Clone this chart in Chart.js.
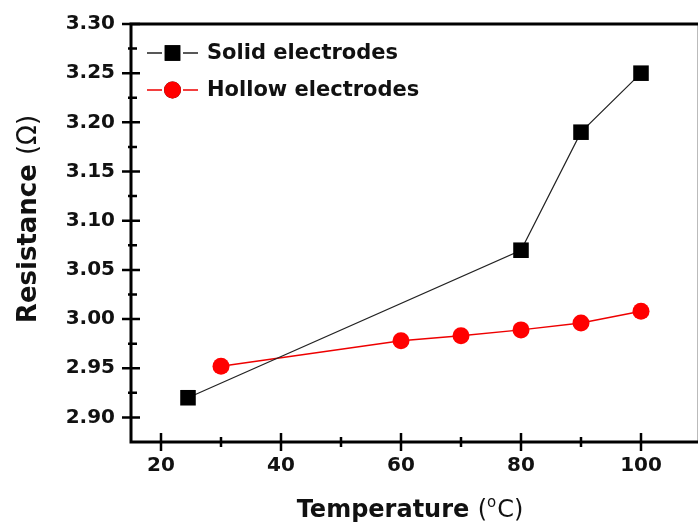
<!DOCTYPE html>
<html>
<head>
<meta charset="utf-8">
<script src="https://cdn.jsdelivr.net/npm/chart.js@4.4.1/dist/chart.umd.min.js"></script>
<style>
  body { margin: 0; background: #fff; }
  #wrap { width: 699px; height: 532px; position: relative; }
</style>
</head>
<body>
<div id="wrap"><canvas id="c"></canvas></div>
<script>
// values
const solidTemp = [24.5, 80, 90, 100];
const solidRes = [2.92, 3.07, 3.19, 3.25];
const hollowTemp = [30, 60, 70, 80, 90, 100];
const hollowRes = [2.952, 2.978, 2.983, 2.989, 2.996, 3.008];

const xMajor = [20, 40, 60, 80, 100];
const xMinor = [30, 50, 70, 90];
const yMajor = [2.90, 2.95, 3.00, 3.05, 3.10, 3.15, 3.20, 3.25, 3.30];
const yMinor = [2.925, 2.975, 3.025, 3.075, 3.125, 3.175, 3.225, 3.275];

const seriesNames = ['Solid electrodes', 'Hollow electrodes'];
const FONT = '"DejaVu Sans", sans-serif';

function pts(xs, ys){
  return xs.map((x, i) => ({x: x, y: ys[i]}));
}

// axes frame, cross ticks, titles and the legend box
const frame = {
  id: 'frame',
  afterDraw(chart){
    const {ctx, chartArea: a, scales: {x, y}} = chart;
    ctx.save();
    ctx.lineCap = 'butt';

    // light right edge
    ctx.strokeStyle = '#bbb';
    ctx.lineWidth = 1;
    ctx.beginPath(); ctx.moveTo(a.right - 0.5, a.top); ctx.lineTo(a.right - 0.5, a.bottom); ctx.stroke();

    ctx.strokeStyle = '#000';
    ctx.lineWidth = 3;
    ctx.beginPath();
    ctx.moveTo(a.right, a.top); ctx.lineTo(a.left, a.top);
    ctx.lineTo(a.left, a.bottom); ctx.lineTo(a.right, a.bottom);
    ctx.stroke();

    ctx.lineWidth = 2.5;
    ctx.beginPath();
    xMajor.forEach(v => { const p = x.getPixelForValue(v); ctx.moveTo(p, a.bottom - 9); ctx.lineTo(p, a.bottom + 9); });
    xMinor.forEach(v => { const p = x.getPixelForValue(v); ctx.moveTo(p, a.bottom - 5); ctx.lineTo(p, a.bottom + 5); });
    yMajor.forEach(v => { const p = y.getPixelForValue(v); ctx.moveTo(a.left - 9, p); ctx.lineTo(a.left + 9, p); });
    yMinor.forEach(v => { const p = y.getPixelForValue(v); ctx.moveTo(a.left - 3, p); ctx.lineTo(a.left + 6, p); });
    ctx.stroke();

    // x title: "Temperature (°C)"
    ctx.fillStyle = '#111';
    ctx.textBaseline = 'alphabetic';
    ctx.textAlign = 'left';
    const bold = 'bold 24px ' + FONT, thin = '24px ' + FONT, sup = '15px ' + FONT;
    ctx.font = bold; const w1 = ctx.measureText('Temperature ').width;
    ctx.font = thin; const w2 = ctx.measureText('(').width;
    ctx.font = sup; const w3 = ctx.measureText('o').width + 1;
    ctx.font = thin; const w4 = ctx.measureText('C)').width;
    let tx = 410 - (w1 + w2 + w3 + w4) / 2;
    const ty = 517;
    ctx.font = bold; ctx.fillText('Temperature ', tx, ty); tx += w1;
    ctx.font = thin; ctx.fillText('(', tx, ty); tx += w2;
    ctx.font = sup; ctx.fillText('o', tx, ty - 10); tx += w3;
    ctx.font = thin; ctx.fillText('C)', tx, ty);

    // y title: "Resistance (Ω)"
    ctx.save();
    ctx.translate(36, 219);
    ctx.rotate(-Math.PI / 2);
    ctx.font = 'bold 26px ' + FONT; const r1 = ctx.measureText('Resistance ').width;
    ctx.font = '26px ' + FONT; const r2 = ctx.measureText('(Ω)').width;
    let rx = -(r1 + r2) / 2;
    ctx.font = 'bold 26px ' + FONT; ctx.fillText('Resistance ', rx, 0); rx += r1;
    ctx.font = '26px ' + FONT; ctx.fillText('(Ω)', rx, 0);
    ctx.restore();

    // legend
    const rows = [53, 90];
    chart.data.datasets.forEach((ds, i) => {
      const cy = rows[i];
      ctx.strokeStyle = ds.borderColor;
      ctx.lineWidth = 1.5;
      ctx.beginPath();
      ctx.moveTo(147, cy); ctx.lineTo(162, cy);
      ctx.moveTo(183, cy); ctx.lineTo(198, cy);
      ctx.stroke();
      Chart.helpers.drawPoint(ctx, {pointStyle: ds.pointStyle, radius: ds.pointRadius, borderWidth: 0}, 172.5, cy);
      ctx.fillStyle = ds.pointBackgroundColor;
      ctx.fill();
      ctx.fillStyle = '#111';
      ctx.font = 'bold 21px ' + FONT;
      ctx.textBaseline = 'middle';
      ctx.fillText(ds.label, 207, cy + 1);
    });
    ctx.restore();
  }
};

new Chart(document.getElementById('c').getContext('2d'), {
  type: 'scatter',
  data: {
    datasets: [
      {
        label: seriesNames[0],
        data: pts(solidTemp, solidRes),
        showLine: true,
        borderColor: '#222',
        borderWidth: 1.2,
        pointStyle: 'rect',
        pointRadius: 11,
        pointBackgroundColor: '#000',
        pointBorderWidth: 0
      },
      {
        label: seriesNames[1],
        data: pts(hollowTemp, hollowRes),
        showLine: true,
        borderColor: '#e00',
        borderWidth: 1.5,
        pointStyle: 'circle',
        pointRadius: 8.5,
        pointBackgroundColor: '#f00',
        pointBorderWidth: 0
      }
    ]
  },
  options: {
    responsive: true,
    maintainAspectRatio: false,
    animation: false,
    layout: {autoPadding: false, padding: {top: 24, right: 1, left: 0, bottom: 0}},
    plugins: {legend: {display: false}, tooltip: {enabled: false}},
    scales: {
      x: {
        type: 'linear',
        min: 15, max: 109.5,
        afterBuildTicks: s => { s.ticks = xMajor.map(v => ({value: v})); },
        afterFit: s => { s.height = 90; s.paddingLeft = 0; s.paddingRight = 0; },
        grid: {display: false, drawTicks: false},
        border: {display: false},
        ticks: {padding: 12, color: '#111', font: {family: FONT, size: 20, weight: 'bold'}}
      },
      y: {
        type: 'linear',
        min: 2.875, max: 3.30,
        afterBuildTicks: s => { s.ticks = yMajor.map(v => ({value: v})); },
        afterFit: s => { s.width = 131; s.paddingTop = 0; s.paddingBottom = 0; },
        grid: {display: false, drawTicks: false},
        border: {display: false},
        ticks: {padding: 16, color: '#111', font: {family: FONT, size: 20, weight: 'bold'},
                callback: v => v.toFixed(2)}
      }
    }
  },
  plugins: [frame]
});
</script>
</body>
</html>
